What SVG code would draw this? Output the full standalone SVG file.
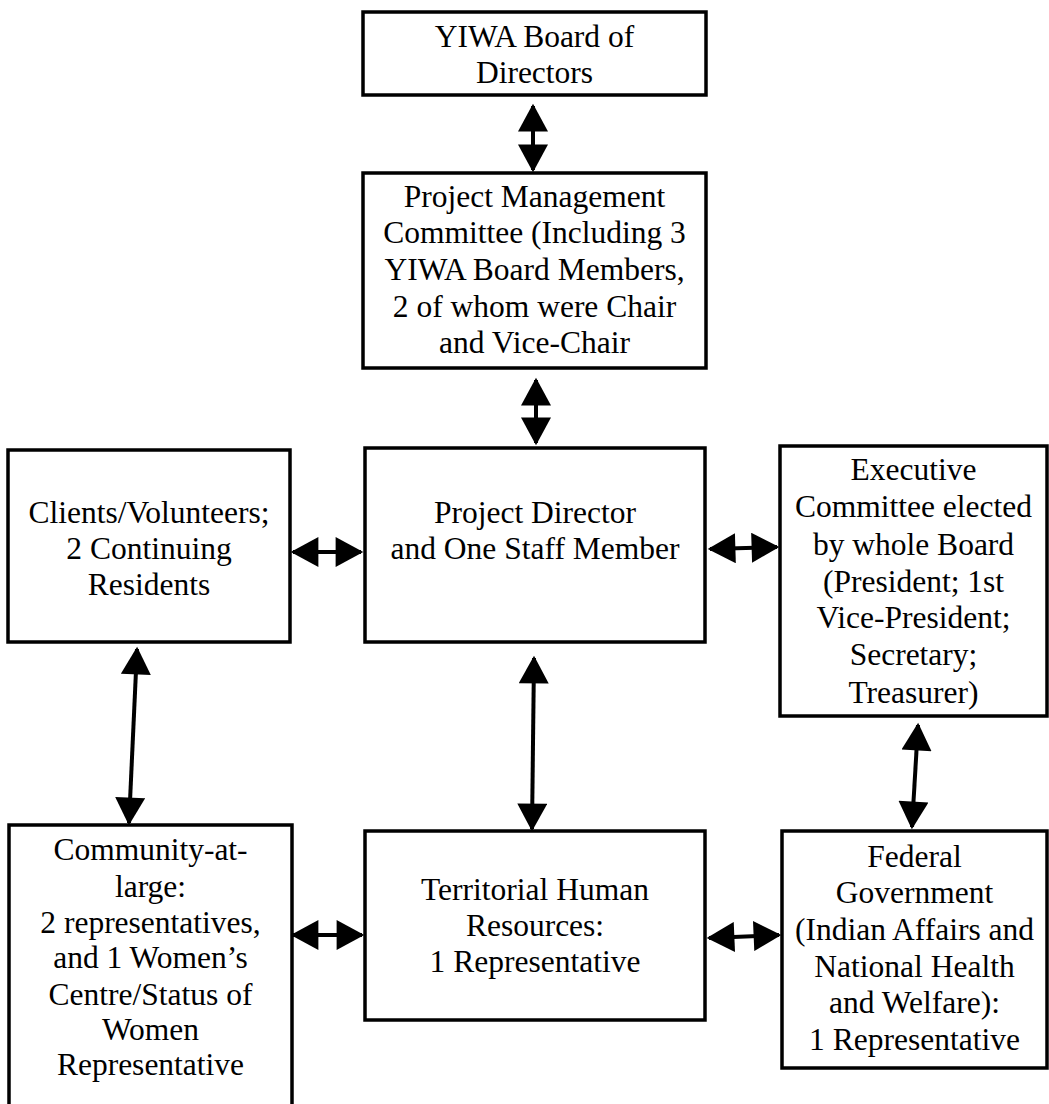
<svg xmlns="http://www.w3.org/2000/svg" width="1049" height="1104" viewBox="0 0 1049 1104">
<defs>
<style>
.box{fill:#fff;stroke:#000;stroke-width:3.5}
.lbl{font-family:"Liberation Serif","Times New Roman",serif;font-size:31.5px;fill:#000;text-anchor:middle}
.con{stroke:#000;stroke-width:4;fill:none;marker-start:url(#ah);marker-end:url(#ah)}
</style>
<marker id="ah" markerUnits="userSpaceOnUse" markerWidth="30" markerHeight="30" viewBox="0 0 24 26" refX="22" refY="13" orient="auto-start-reverse">
<path d="M0,0 L24,13 L0,26 Z" fill="#000"/>
</marker>
</defs>
<rect width="1049" height="1104" fill="#fff"/>
<g id="board">
<rect class="box" x="363" y="12" width="343" height="83"/>
<text class="lbl" x="534.5"><tspan x="534.5" y="47">YIWA Board of</tspan><tspan x="534.5" y="83">Directors</tspan></text>
</g>
<g id="pmc">
<rect class="box" x="363" y="173" width="343" height="195"/>
<text class="lbl"><tspan x="534.5" y="207">Project Management</tspan><tspan x="534.5" y="243">Committee (Including 3</tspan><tspan x="534.5" y="280">YIWA Board Members,</tspan><tspan x="534.5" y="317">2 of whom were Chair</tspan><tspan x="534.5" y="353">and Vice-Chair</tspan></text>
</g>
<g id="clients">
<rect class="box" x="8" y="450" width="282" height="192"/>
<text class="lbl"><tspan x="149" y="523">Clients/Volunteers;</tspan><tspan x="149" y="559">2 Continuing</tspan><tspan x="149" y="595">Residents</tspan></text>
</g>
<g id="director">
<rect class="box" x="365" y="448" width="340" height="194"/>
<text class="lbl"><tspan x="535" y="523">Project Director</tspan><tspan x="535" y="559">and One Staff Member</tspan></text>
</g>
<g id="executive">
<rect class="box" x="780" y="446" width="267" height="270"/>
<text class="lbl"><tspan x="913.5" y="480">Executive</tspan><tspan x="913.5" y="517">Committee elected</tspan><tspan x="913.5" y="555">by whole Board</tspan><tspan x="913.5" y="592">(President; 1st</tspan><tspan x="913.5" y="628">Vice-President;</tspan><tspan x="913.5" y="665">Secretary;</tspan><tspan x="913.5" y="703">Treasurer)</tspan></text>
</g>
<g id="community">
<rect class="box" x="9" y="825" width="283" height="290"/>
<text class="lbl"><tspan x="150.5" y="860">Community-at-</tspan><tspan x="150.5" y="897">large:</tspan><tspan x="150.5" y="933">2 representatives,</tspan><tspan x="150.5" y="968">and 1 Women’s</tspan><tspan x="150.5" y="1005">Centre/Status of</tspan><tspan x="150.5" y="1040">Women</tspan><tspan x="150.5" y="1075">Representative</tspan></text>
</g>
<g id="territorial">
<rect class="box" x="365" y="831" width="340" height="189"/>
<text class="lbl"><tspan x="535" y="900">Territorial Human</tspan><tspan x="535" y="936">Resources:</tspan><tspan x="535" y="972">1 Representative</tspan></text>
</g>
<g id="federal">
<rect class="box" x="782" y="831" width="265" height="237"/>
<text class="lbl"><tspan x="914.5" y="867">Federal</tspan><tspan x="914.5" y="903">Government</tspan><tspan x="914.5" y="940">(Indian Affairs and</tspan><tspan x="914.5" y="977">National Health</tspan><tspan x="914.5" y="1013">and Welfare):</tspan><tspan x="914.5" y="1050">1 Representative</tspan></text>
</g>
<g id="connectors">
<line class="con" x1="533" y1="106" x2="533" y2="170"/>
<line class="con" x1="536" y1="380" x2="536" y2="443"/>
<line class="con" x1="293" y1="552" x2="361" y2="552"/>
<line class="con" x1="710" y1="549" x2="777" y2="547"/>
<line class="con" x1="137" y1="649" x2="129" y2="823"/>
<line class="con" x1="534" y1="658" x2="532" y2="829"/>
<line class="con" x1="918" y1="725" x2="912" y2="827"/>
<line class="con" x1="293" y1="935" x2="362" y2="935"/>
<line class="con" x1="709" y1="938" x2="779" y2="935"/>
</g>
</svg>
